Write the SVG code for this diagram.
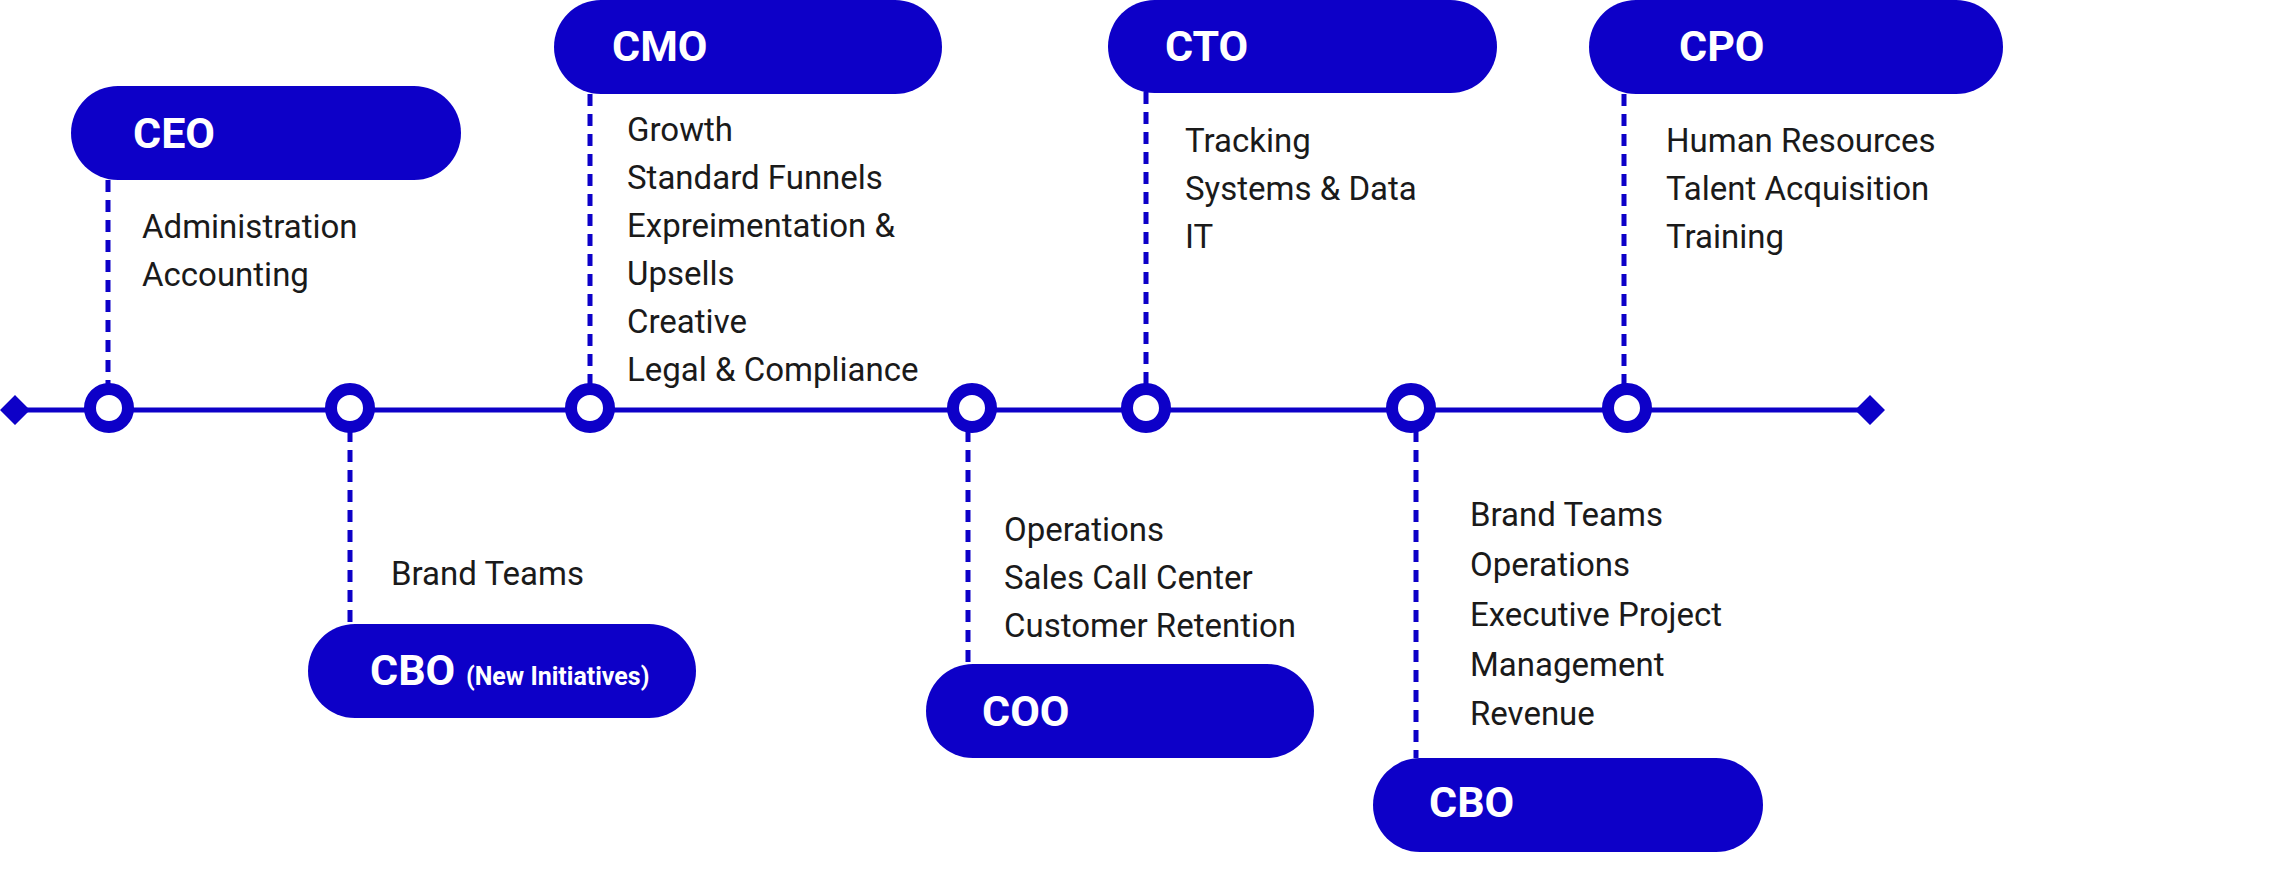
<svg xmlns="http://www.w3.org/2000/svg" width="2286" height="892" viewBox="0 0 2286 892">
<style>
.pill{fill:#0d00c8}
.t{font-family:Roboto,"Liberation Sans",sans-serif;font-weight:700;font-size:43px;fill:#fff}
.s{font-family:Roboto,"Liberation Sans",sans-serif;font-size:33px;fill:#1a1a1a}
.d{stroke:#0d00c8;stroke-width:5;stroke-dasharray:12 8;fill:none}
.c{fill:#fff;stroke:#0d00c8;stroke-width:12}
</style>
<rect width="2286" height="892" fill="#fff"/>
<g id="connectors">
<line x1="15" y1="410" x2="1870" y2="410" stroke="#0d00c8" stroke-width="5"/>
<path d="M0 410 L15 395 L30 410 L15 425Z M1855 410 L1870 395 L1885 410 L1870 425Z" fill="#0d00c8"/>
<line class="d" x1="108" y1="180" x2="108" y2="392"/>
<line class="d" x1="590" y1="94" x2="590" y2="392"/>
<line class="d" x1="1146" y1="92" x2="1146" y2="392"/>
<line class="d" x1="1624" y1="94" x2="1624" y2="392"/>
<line class="d" x1="350" y1="430" x2="350" y2="624"/>
<line class="d" x1="968" y1="430" x2="968" y2="664"/>
<line class="d" x1="1416" y1="430" x2="1416" y2="758"/>
<circle class="c" cx="109" cy="408" r="19"/>
<circle class="c" cx="350" cy="408" r="19"/>
<circle class="c" cx="590" cy="408" r="19"/>
<circle class="c" cx="972" cy="408" r="19"/>
<circle class="c" cx="1146" cy="408" r="19"/>
<circle class="c" cx="1411" cy="408" r="19"/>
<circle class="c" cx="1627" cy="408" r="19"/>
</g>
<g id="ceo"><rect class="pill" x="71" y="86" width="390" height="94" rx="47"/><text class="t" x="133" y="148">CEO</text>
<text class="s" x="142" y="238">Administration</text><text class="s" x="142" y="286">Accounting</text></g>
<g id="cmo"><rect class="pill" x="554" y="0" width="388" height="94" rx="47"/><text class="t" x="612" y="61">CMO</text>
<text class="s" x="627" y="141">Growth</text><text class="s" x="627" y="189">Standard Funnels</text><text class="s" x="627" y="237">Expreimentation &amp;</text><text class="s" x="627" y="285">Upsells</text><text class="s" x="627" y="333">Creative</text><text class="s" x="627" y="381">Legal &amp; Compliance</text></g>
<g id="cto"><rect class="pill" x="1108" y="0" width="389" height="93" rx="46.5"/><text class="t" x="1165" y="61">CTO</text>
<text class="s" x="1185" y="152">Tracking</text><text class="s" x="1185" y="200">Systems &amp; Data</text><text class="s" x="1185" y="248">IT</text></g>
<g id="cpo"><rect class="pill" x="1589" y="0" width="414" height="94" rx="47"/><text class="t" x="1679" y="61">CPO</text>
<text class="s" x="1666" y="152">Human Resources</text><text class="s" x="1666" y="200">Talent Acquisition</text><text class="s" x="1666" y="248">Training</text></g>
<g id="cbo-new"><rect class="pill" x="308" y="624" width="388" height="94" rx="47"/><text class="t" x="370" y="685">CBO <tspan font-size="25">(New Initiatives)</tspan></text>
<text class="s" x="391" y="585">Brand Teams</text></g>
<g id="coo"><rect class="pill" x="926" y="664" width="388" height="94" rx="47"/><text class="t" x="982" y="726">COO</text>
<text class="s" x="1004" y="541">Operations</text><text class="s" x="1004" y="589">Sales Call Center</text><text class="s" x="1004" y="637">Customer Retention</text></g>
<g id="cbo"><rect class="pill" x="1373" y="758" width="390" height="94" rx="47"/><text class="t" x="1429" y="817">CBO</text>
<text class="s" x="1470" y="526">Brand Teams</text><text class="s" x="1470" y="576">Operations</text><text class="s" x="1470" y="626">Executive Project</text><text class="s" x="1470" y="676">Management</text><text class="s" x="1470" y="725">Revenue</text></g>
</svg>
